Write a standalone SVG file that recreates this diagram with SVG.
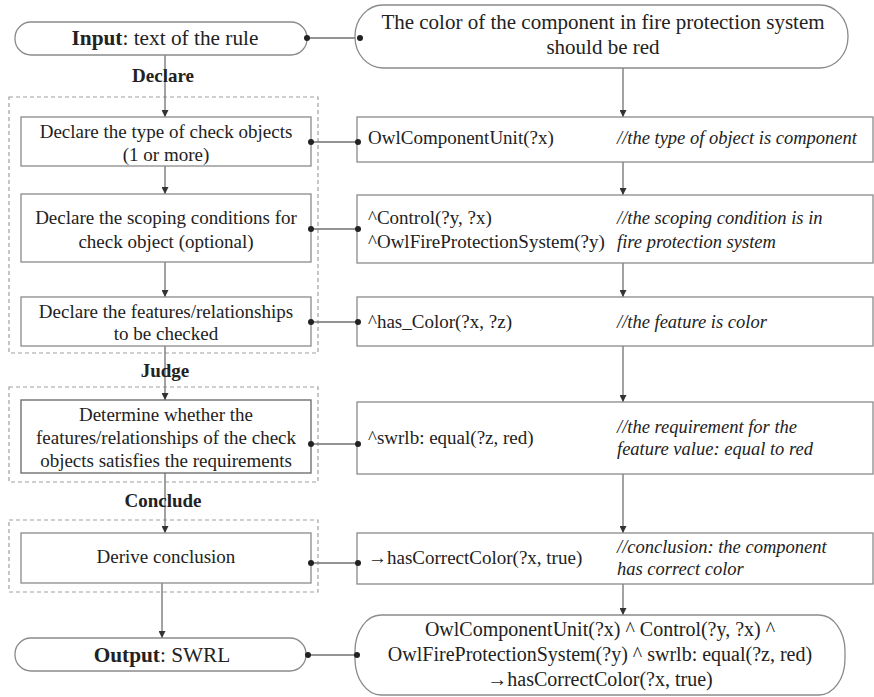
<svg xmlns="http://www.w3.org/2000/svg" width="874" height="697" viewBox="0 0 874 697">
  <style>
    text { font-family: "Liberation Serif", "Times New Roman", serif; fill: #222; }
    .t { font-size: 19px; }
    .big { font-size: 21.3px; }
    .mid { font-size: 20px; }
    .c { text-anchor: middle; }
    .b { font-weight: bold; }
    .i { font-style: italic; font-size: 18.5px; }
    .box { fill: #fff; stroke: #8a8a8a; stroke-width: 1.3; }
    .grp { fill: none; stroke: #a0a0a0; stroke-width: 1.2; stroke-dasharray: 4 3; }
    .ln { fill: none; stroke: #707070; stroke-width: 1.3; }
    .dot { fill: #222; }
  </style>
  <defs>
    <marker id="ah" viewBox="0 0 10 10" refX="10" refY="5" markerWidth="7" markerHeight="7" markerUnits="userSpaceOnUse" orient="auto">
      <path d="M0,0 L10,5 L0,10 Z" fill="#333"/>
    </marker>
  </defs>

  <!-- dashed stage frames -->
  <g id="stage-declare"><rect class="grp" x="9" y="97" width="309" height="256"/></g>
  <g id="stage-judge"><rect class="grp" x="9" y="387" width="309" height="95"/></g>
  <g id="stage-conclude"><rect class="grp" x="9" y="520" width="309" height="72"/></g>

  <!-- connectors -->
  <g id="connectors">
    <!-- left column flow -->
    <line class="ln" x1="165" y1="55" x2="165" y2="117" marker-end="url(#ah)"/>
    <line class="ln" x1="165" y1="166" x2="165" y2="194" marker-end="url(#ah)"/>
    <line class="ln" x1="165" y1="262" x2="165" y2="297" marker-end="url(#ah)"/>
    <line class="ln" x1="165" y1="346" x2="165" y2="400" marker-end="url(#ah)"/>
    <line class="ln" x1="165" y1="473" x2="165" y2="533" marker-end="url(#ah)"/>
    <line class="ln" x1="162" y1="583" x2="162" y2="638" marker-end="url(#ah)"/>
    <!-- right column flow -->
    <line class="ln" x1="623" y1="68" x2="623" y2="117" marker-end="url(#ah)"/>
    <line class="ln" x1="623" y1="162" x2="623" y2="195" marker-end="url(#ah)"/>
    <line class="ln" x1="623" y1="263" x2="623" y2="297" marker-end="url(#ah)"/>
    <line class="ln" x1="623" y1="346" x2="623" y2="402" marker-end="url(#ah)"/>
    <line class="ln" x1="623" y1="474" x2="623" y2="533" marker-end="url(#ah)"/>
    <line class="ln" x1="623" y1="584" x2="623" y2="615" marker-end="url(#ah)"/>
    <!-- horizontal links between columns -->
    <line class="ln" x1="307" y1="38" x2="360" y2="38"/>
    <line class="ln" x1="311" y1="142" x2="358" y2="142"/>
    <line class="ln" x1="311" y1="229" x2="358" y2="229"/>
    <line class="ln" x1="311" y1="322" x2="358" y2="322"/>
    <line class="ln" x1="311" y1="444" x2="358" y2="444"/>
    <line class="ln" x1="311" y1="563" x2="358" y2="563"/>
    <line class="ln" x1="308" y1="655" x2="357" y2="655"/>
  </g>

  <!-- stage labels -->
  <text class="t b c" x="163" y="82">Declare</text>
  <text class="t b c" x="165" y="377">Judge</text>
  <text class="t b c" x="163" y="507">Conclude</text>

  <!-- left column -->
  <g id="input">
    <rect class="box" x="15" y="22" width="292" height="33" rx="16" ry="16"/>
    <text class="big c" x="165" y="45"><tspan class="b">Input</tspan>: text of the rule</text>
  </g>
  <g id="declare-type">
    <rect class="box" x="21" y="117" width="290" height="49"/>
    <text class="t c" x="166" y="138">Declare the type of check objects</text>
    <text class="t c" x="166" y="161">(1 or more)</text>
  </g>
  <g id="declare-scope">
    <rect class="box" x="21" y="194" width="290" height="68"/>
    <text class="t c" x="166" y="224">Declare the scoping conditions for</text>
    <text class="t c" x="166" y="248">check object (optional)</text>
  </g>
  <g id="declare-features">
    <rect class="box" x="21" y="297" width="290" height="49"/>
    <text class="t c" x="166" y="318">Declare the features/relationships</text>
    <text class="t c" x="166" y="340">to be checked</text>
  </g>
  <g id="judge">
    <rect class="box" x="21" y="400" width="290" height="73" style="stroke:#666"/>
    <text class="t c" x="166" y="421">Determine whether the</text>
    <text class="t c" x="166" y="444">features/relationships of the check</text>
    <text class="t c" x="166" y="467">objects satisfies the requirements</text>
  </g>
  <g id="derive">
    <rect class="box" x="21" y="533" width="290" height="50"/>
    <text class="t c" x="166" y="563">Derive conclusion</text>
  </g>
  <g id="output">
    <rect class="box" x="15" y="638" width="291" height="33" rx="16" ry="16"/>
    <text class="big c" x="162" y="662"><tspan class="b">Output</tspan>: SWRL</text>
  </g>

  <!-- right column -->
  <g id="rule-text">
    <rect class="box" x="355" y="5" width="493" height="63" rx="28" ry="31"/>
    <text class="big c" x="603" y="29" style="font-size:21px">The color of the component in fire protection system</text>
    <text class="big c" x="603" y="54" style="font-size:21px">should be red</text>
  </g>
  <g id="atom-type">
    <rect class="box" x="357" y="117" width="516" height="45"/>
    <text class="t" x="368" y="144">OwlComponentUnit(?x)</text>
    <text class="t i" x="617" y="144">//the type of object is component</text>
  </g>
  <g id="atom-scope">
    <rect class="box" x="357" y="195" width="516" height="68"/>
    <text class="t" x="368" y="224">^Control(?y, ?x)</text>
    <text class="t" x="368" y="248">^OwlFireProtectionSystem(?y)</text>
    <text class="t i" x="617" y="224">//the scoping condition is in</text>
    <text class="t i" x="617" y="248">fire protection system</text>
  </g>
  <g id="atom-feature">
    <rect class="box" x="357" y="297" width="516" height="49"/>
    <text class="t" x="368" y="328">^has_Color(?x, ?z)</text>
    <text class="t i" x="617" y="328">//the feature is color</text>
  </g>
  <g id="atom-requirement">
    <rect class="box" x="357" y="402" width="516" height="72"/>
    <text class="t" x="368" y="444">^swrlb: equal(?z, red)</text>
    <text class="t i" x="617" y="433">//the requirement for the</text>
    <text class="t i" x="617" y="455">feature value: equal to red</text>
  </g>
  <g id="atom-conclusion">
    <rect class="box" x="357" y="533" width="516" height="51"/>
    <text class="t" x="368" y="564">→hasCorrectColor(?x, true)</text>
    <text class="t i" x="617" y="553">//conclusion: the component</text>
    <text class="t i" x="617" y="575">has correct color</text>
  </g>
  <g id="swrl-rule">
    <rect class="box" x="355" y="615" width="490" height="80" rx="26" ry="36"/>
    <text class="mid c" x="600" y="636">OwlComponentUnit(?x) ^ Control(?y, ?x) ^</text>
    <text class="mid c" x="600" y="661">OwlFireProtectionSystem(?y) ^ swrlb: equal(?z, red)</text>
    <text class="mid c" x="600" y="686">→hasCorrectColor(?x, true)</text>
  </g>

  <!-- link end dots, drawn over the box edges -->
  <g id="link-dots" class="dot">
    <circle cx="307" cy="38" r="3"/><circle cx="360" cy="38" r="3"/>
    <circle cx="311" cy="142" r="3"/><circle cx="358" cy="142" r="3"/>
    <circle cx="311" cy="229" r="3"/><circle cx="358" cy="229" r="3"/>
    <circle cx="311" cy="322" r="3"/><circle cx="358" cy="322" r="3"/>
    <circle cx="311" cy="444" r="3"/><circle cx="358" cy="444" r="3"/>
    <circle cx="311" cy="563" r="3"/><circle cx="358" cy="563" r="3"/>
    <circle cx="308" cy="655" r="3"/><circle cx="357" cy="655" r="3"/>
  </g>
</svg>
